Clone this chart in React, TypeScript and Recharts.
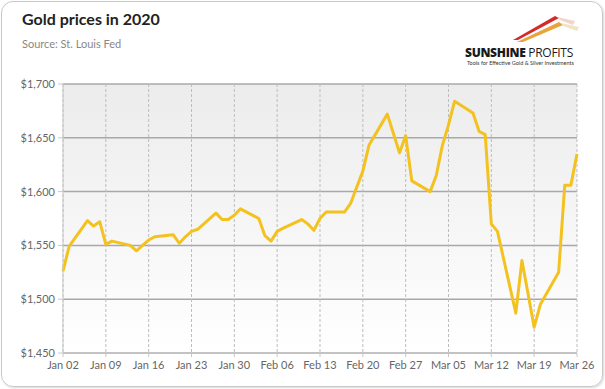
import { CartesianGrid, Line, LineChart, XAxis, YAxis } from "recharts";

const dates = [
  "2020-01-02", "2020-01-03", "2020-01-06", "2020-01-07", "2020-01-08", "2020-01-09", "2020-01-10",
  "2020-01-13", "2020-01-14", "2020-01-15", "2020-01-16", "2020-01-17",
  "2020-01-20", "2020-01-21", "2020-01-22", "2020-01-23", "2020-01-24",
  "2020-01-27", "2020-01-28", "2020-01-29", "2020-01-30", "2020-01-31",
  "2020-02-03", "2020-02-04", "2020-02-05", "2020-02-06", "2020-02-07",
  "2020-02-10", "2020-02-11", "2020-02-12", "2020-02-13", "2020-02-14",
  "2020-02-17", "2020-02-18", "2020-02-19", "2020-02-20", "2020-02-21",
  "2020-02-24", "2020-02-25", "2020-02-26", "2020-02-27", "2020-02-28",
  "2020-03-02", "2020-03-03", "2020-03-04", "2020-03-05", "2020-03-06",
  "2020-03-09", "2020-03-10", "2020-03-11", "2020-03-12", "2020-03-13",
  "2020-03-16", "2020-03-17", "2020-03-18", "2020-03-19", "2020-03-20",
  "2020-03-23", "2020-03-24", "2020-03-25", "2020-03-26",
];

const prices = [
  1526, 1549, 1573, 1568, 1572, 1551, 1554,
  1550, 1545, 1550, 1555, 1558,
  1560, 1552, 1558, 1563, 1565,
  1580, 1574, 1574, 1578, 1584,
  1575, 1559, 1554, 1563, 1566,
  1574, 1570, 1564, 1575, 1581,
  1581, 1589, 1604, 1619, 1643,
  1672, 1654, 1636, 1652, 1610,
  1600, 1615, 1643, 1662, 1684,
  1673, 1656, 1653, 1570, 1563,
  1487, 1536, 1505, 1474, 1495,
  1525, 1606, 1606, 1635,
];

const xTickLabels = [
  "Jan 02", "Jan 09", "Jan 16", "Jan 23", "Jan 30", "Feb 06", "Feb 13",
  "Feb 20", "Feb 27", "Mar 05", "Mar 12", "Mar 19", "Mar 26",
];
const yTicks = [1450, 1500, 1550, 1600, 1650, 1700];

const DAY = 24 * 3600 * 1000;
const start = Date.parse(dates[0]);
const data = dates.map((d, i) => ({ day: Math.round((Date.parse(d) - start) / DAY), price: prices[i] }));
const xTicks = xTickLabels.map((_, i) => i * 7);

const FONT = "Lato, 'Open Sans', sans-serif";
const tickStyle = { fill: "#666", fontSize: 11, fontFamily: FONT };

export default function App() {
  return (
    <div style={{ position: "fixed", left: 0, top: 0, width: 605, height: 389, background: "#fff" }}>
      <div
        style={{
          position: "absolute",
          left: 1,
          top: 1,
          width: 600,
          height: 384,
          border: "1px solid #c8c8c8",
          borderRadius: 12,
          boxShadow: "1px 1px 2px rgba(0,0,0,0.15)",
        }}
      />
      <div style={{ position: "absolute", left: 22, top: 10, fontFamily: FONT, fontWeight: 700, fontSize: 16, lineHeight: "18px", color: "#222" }}>
        Gold prices in 2020
      </div>
      <div style={{ position: "absolute", left: 22, top: 37, fontFamily: FONT, fontSize: 11, lineHeight: "13px", color: "#888" }}>
        Source: St. Louis Fed
      </div>
      <svg style={{ position: "absolute", left: 505, top: 12 }} width={80} height={34}>
        <polygon points="8,28 50,4 54,6 13,28" fill="#d42a2a" />
        <polygon points="12,30 54,10 58,13 18,30" fill="#e8a33a" />
        <polygon points="52,5 70,9 68,13 55,8" fill="#efc9bc" opacity={0.8} />
        <polygon points="56,11 74,15 72,19 58,14" fill="#ecdcb8" opacity={0.8} />
      </svg>
      <div style={{ position: "absolute", left: 465, top: 46, fontFamily: "'Open Sans', sans-serif", fontSize: 12, lineHeight: "13px", color: "#1a1a1a", letterSpacing: -0.3 }}>
        <span style={{ fontWeight: 800 }}>SUNSHINE</span> PROFITS
      </div>
      <div style={{ position: "absolute", left: 467, top: 60, fontFamily: FONT, fontSize: 5.5, lineHeight: "6px", color: "#333", whiteSpace: "nowrap" }}>
        Tools for Effective Gold &amp; Silver Investments
      </div>
      <div style={{ position: "absolute", left: 0, top: 0 }}>
        <LineChart width={605} height={389} data={data} margin={{ top: 84, right: 28, bottom: 6, left: 0 }}>
          <defs>
            <linearGradient id="plotBg" x1="0" y1="0" x2="0" y2="1">
              <stop offset="0%" stopColor="#ececec" />
              <stop offset="100%" stopColor="#ffffff" />
            </linearGradient>
          </defs>
          <CartesianGrid vertical={false} stroke="#a8a8a8" strokeWidth={1.5} fill="url(#plotBg)" />
          <CartesianGrid horizontal={false} stroke="#bdbdbd" strokeDasharray="3 2" />
          <XAxis
            dataKey="day"
            type="number"
            domain={[0, 84]}
            ticks={xTicks}
            tickFormatter={(v: number) => xTickLabels[v / 7]}
            tick={tickStyle}
            stroke="#c8c8c8"
            tickSize={4}
            tickMargin={4}
            interval={0}
          />
          <YAxis
            width={63}
            domain={[1450, 1700]}
            ticks={yTicks}
            tickFormatter={(v: number) => "$" + v.toLocaleString("en-US")}
            tick={tickStyle}
            stroke="#c8c8c8"
            tickSize={5}
            tickMargin={3}
            interval={0}
          />
          <Line
            dataKey="price"
            stroke="#f4c21f"
            strokeWidth={3}
            dot={false}
            isAnimationActive={false}
            strokeLinejoin="round"
          />
        </LineChart>
      </div>
    </div>
  );
}
